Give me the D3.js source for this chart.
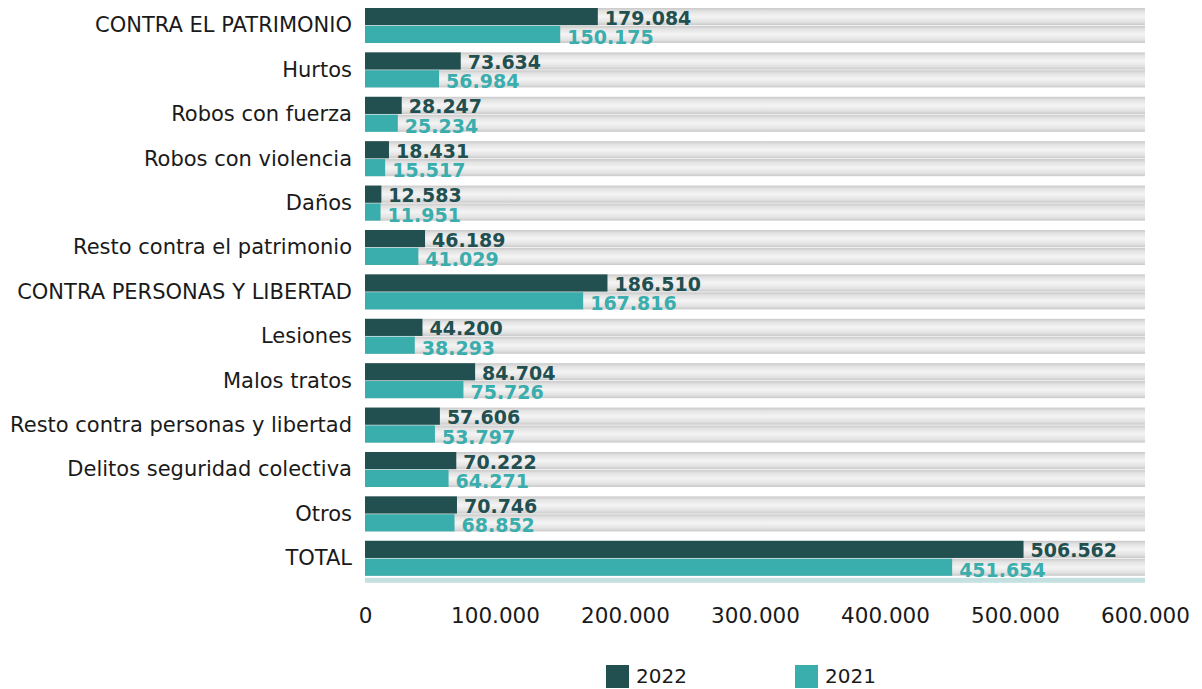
<!DOCTYPE html>
<html>
<head>
<meta charset="utf-8">
<script src="https://cdn.jsdelivr.net/npm/d3@7"></script>
<style>
  body { margin: 0; background: #fff; }
  svg { font-family: "DejaVu Sans", sans-serif; }
</style>
</head>
<body>
<div id="chart"></div>
<script>
const categories = [
  "CONTRA EL PATRIMONIO", "Hurtos", "Robos con fuerza", "Robos con violencia", "Daños",
  "Resto contra el patrimonio", "CONTRA PERSONAS Y LIBERTAD", "Lesiones", "Malos tratos ",
  "Resto contra personas y libertad", "Delitos seguridad colectiva", "Otros", "TOTAL"
];
const values2022 = [179084, 73634, 28247, 18431, 12583, 46189, 186510, 44200, 84704, 57606, 70222, 70746, 506562];
const values2021 = [150175, 56984, 25234, 15517, 11951, 41029, 167816, 38293, 75726, 53797, 64271, 68852, 451654];
const series = ["2022", "2021"];
const xTicks = [0, 100000, 200000, 300000, 400000, 500000, 600000];

const w = 1202, h = 689;
const colors = { "2022": "#224f4f", "2021": "#3aadad" };

const svg = d3.select("#chart").append("svg").attr("width", w).attr("height", h);

const defs = svg.append("defs");
const grad = defs.append("linearGradient").attr("id", "track")
  .attr("x1", 0).attr("y1", 0).attr("x2", 0).attr("y2", 1);
grad.append("stop").attr("offset", "0%").attr("stop-color", "#c9c9c9");
grad.append("stop").attr("offset", "18%").attr("stop-color", "#e2e2e2");
grad.append("stop").attr("offset", "50%").attr("stop-color", "#f4f4f4");
grad.append("stop").attr("offset", "82%").attr("stop-color", "#e2e2e2");
grad.append("stop").attr("offset", "100%").attr("stop-color", "#c9c9c9");

const xScale = d3.scaleLinear().domain([0, 600000]).range([365, 1145]);
const yScale = d3.scaleBand().domain(categories).range([3, 3 + 44.4 * categories.length]);
const ySub = d3.scaleBand().domain(series).range([5, 40]).paddingInner(0.04);

const fmt = d3.format(",");
const esFmt = v => fmt(v).replace(/,/g, ".");

const rows = categories.map((c, i) => ({ cat: c, "2022": values2022[i], "2021": values2021[i] }));

const row = svg.selectAll("g.row").data(rows).enter().append("g")
  .attr("class", "row")
  .attr("transform", d => "translate(0," + yScale(d.cat) + ")");

// gray tracks
row.selectAll("rect.track").data(series).enter().append("rect")
  .attr("class", "track")
  .attr("x", xScale(0))
  .attr("y", s => ySub(s))
  .attr("width", xScale(600000) - xScale(0))
  .attr("height", ySub.bandwidth())
  .attr("fill", "url(#track)");

// bars
row.selectAll("rect.bar").data(d => series.map(s => ({ s: s, v: d[s] }))).enter().append("rect")
  .attr("class", "bar")
  .attr("x", xScale(0))
  .attr("y", d => ySub(d.s))
  .attr("width", d => xScale(d.v) - xScale(0))
  .attr("height", d => ySub.bandwidth())
  .attr("fill", d => colors[d.s]);

// value labels
row.selectAll("text.val").data(d => series.map(s => ({ s: s, v: d[s] }))).enter().append("text")
  .attr("class", "val")
  .attr("x", d => xScale(d.v) + 7)
  .attr("y", d => ySub(d.s) + ySub.bandwidth() + (d.s === "2021" ? 1 : -0.5))
  .attr("fill", d => colors[d.s])
  .style("font-size", "19px")
  .style("font-weight", "bold")
  .text(d => esFmt(d.v));

// category labels
row.append("text")
  .attr("x", 352)
  .attr("y", 22)
  .attr("dy", "0.35em")
  .attr("text-anchor", "end")
  .attr("fill", "#1a1a1a")
  .style("font-size", "21px")
  .text(d => d.cat);

// light strip under TOTAL
const lastY = yScale(categories[categories.length - 1]) + 42;
svg.append("rect")
  .attr("x", xScale(0)).attr("y", lastY)
  .attr("width", xScale(600000) - xScale(0)).attr("height", 5)
  .attr("fill", "#c5e0e1");

// x axis
const xAxis = d3.axisBottom(xScale).tickValues(xTicks).tickSize(0).tickPadding(0)
  .tickFormat(d => d === 0 ? "0" : esFmt(d));
const gx = svg.append("g").attr("transform", "translate(0,608)").call(xAxis);
gx.select(".domain").remove();
gx.selectAll(".tick text")
  .style("font-size", "21.5px")
  .style("font-family", "DejaVu Sans, sans-serif")
  .attr("fill", "#1a1a1a")
  .attr("dy", "0.72em");

// legend
const legend = svg.selectAll("g.legend").data(series).enter().append("g")
  .attr("class", "legend")
  .attr("transform", (d, i) => "translate(" + (606 + i * 189) + ",665)");
legend.append("rect").attr("width", 23).attr("height", 23).attr("fill", d => colors[d]);
legend.append("text").attr("x", 30).attr("y", 11).attr("dy", "0.35em")
  .style("font-size", "20px").attr("fill", "#1a1a1a").text(d => d);
</script>
</body>
</html>
